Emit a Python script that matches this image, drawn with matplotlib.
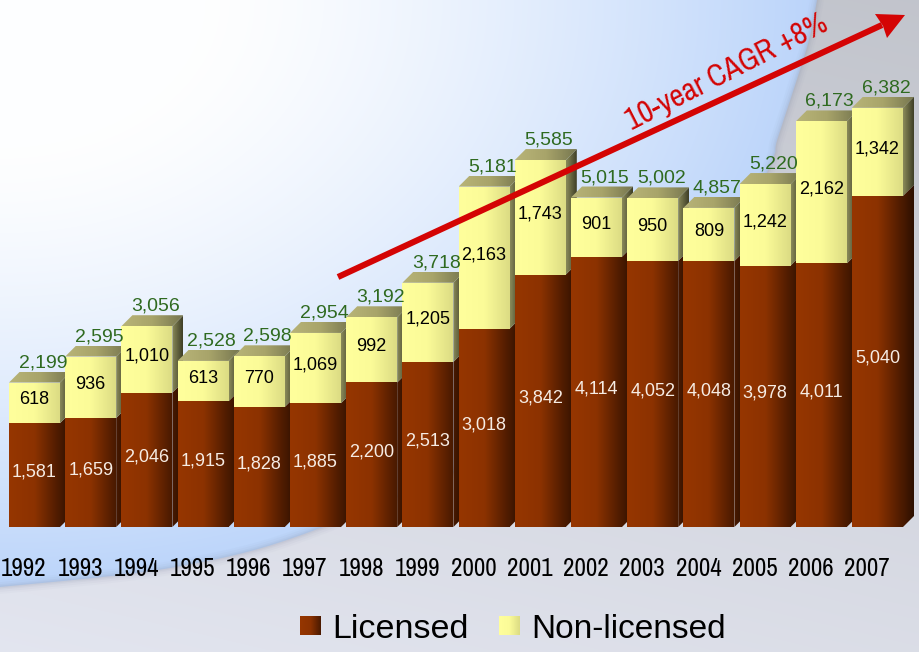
import numpy as np
from matplotlib import pyplot as plt
from matplotlib.colors import LinearSegmentedColormap
from matplotlib.patches import PathPatch, Polygon
from matplotlib.path import Path

years = list(range(1992, 2008))
licensed = [1581, 1659, 2046, 1915, 1828, 1885, 2200, 2513, 3018, 3842, 4114, 4052, 4048, 3978, 4011, 5040]
non_licensed = [618, 936, 1010, 613, 770, 1069, 992, 1205, 2163, 1743, 901, 950, 809, 1242, 2162, 1342]

W, H = 920, 652
PX_PER_UNIT = 0.0657
PX_PER_BAR = 56.2
BASE_Y = 527
FIRST_X = 34.5
DEPTH_PX = 11
NARROW = ['Archivo Narrow', 'Liberation Sans']

def ramp(*colors):
    return LinearSegmentedColormap.from_list('', colors)

brown_front = ramp('#963600', '#8c3200', '#4a1a00')
brown_side = ramp('#4a1a00', '#2c0f00')
yellow_front = ramp('#ffff9c', '#fbfb98', '#dcdc84')
yellow_side = ramp('#8a8a5a', '#3e3e26')
top_face = ramp('#b8b478', '#a8a46a', '#777750')

def grad_fill(ax, verts, cmap, z):
    # horizontal colour ramp clipped to an arbitrary polygon
    verts = np.array(verts)
    x0, x1 = verts[:, 0].min(), verts[:, 0].max()
    y0, y1 = verts[:, 1].min(), verts[:, 1].max()
    im = ax.imshow(np.linspace(0, 1, 64)[None, :], cmap=cmap, vmin=0, vmax=1, aspect='auto',
                   extent=(x0, x1, y0, y1), interpolation='bilinear', zorder=z)
    im.set_clip_path(Polygon(verts, closed=True, transform=ax.transData))

fig = plt.figure(figsize=(W / 100, H / 100), dpi=100)

# backdrop, in pixel coordinates
bg = fig.add_axes([0, 0, 1, 1])
bg.axis('off')
yy, xx = np.mgrid[0:H, 0:W]
grey = np.zeros((H, W, 3))
t = np.clip(yy / H * 0.75 + (W - xx) / W * 0.25, 0, 1)[..., None]
grey[:] = (1 - t) * np.array([0.76, 0.77, 0.80]) + t * np.array([0.89, 0.90, 0.94])
bg.imshow(grey, extent=(0, W, H, 0), aspect='auto', zorder=0)

r = np.sqrt((xx / 820) ** 2 + (yy / 590) ** 2)
t = np.clip((r - 0.25) / 0.75, 0, 1)[..., None] ** 1.4
blue = (1 - t) * np.array([0.995, 0.997, 1.0]) + t * np.array([0.73, 0.83, 0.98])
im = bg.imshow(blue, extent=(0, W, H, 0), aspect='auto', zorder=1)
curve = np.array([(817, 0), (807, 47), (778, 137), (768, 170), (700, 310), (560, 420), (323, 527), (176, 567), (0, 587)])
fine_x = []
fine_y = []
# Catmull-Rom through the edge points
pts = np.vstack([curve[0], curve, curve[-1]])
for i in range(1, len(pts) - 2):
    for s in np.linspace(0, 1, 20):
        p = 0.5 * (2 * pts[i] + (pts[i + 1] - pts[i - 1]) * s
                   + (2 * pts[i - 1] - 5 * pts[i] + 4 * pts[i + 1] - pts[i + 2]) * s ** 2
                   + (3 * pts[i] - pts[i - 1] - 3 * pts[i + 1] + pts[i + 2]) * s ** 3)
        fine_x.append(p[0])
        fine_y.append(p[1])
outline = list(zip(fine_x, fine_y)) + [(0, 0), (817, 0)]
blue_clip = PathPatch(Path(outline + [outline[0]]), transform=bg.transData)
im.set_clip_path(blue_clip)
for lw, a in [(10, 0.04), (7, 0.06), (4, 0.08), (2, 0.10)]:
    bg.plot(fine_x, fine_y, color='#8890a8', lw=lw, alpha=a, zorder=2, solid_capstyle='round')
bg.set_xlim(0, W)
bg.set_ylim(H, 0)

# chart axes: categories on x, values on y
ax = fig.add_axes([0, 0, 1, 1])
ax.patch.set_alpha(0)
ax.axis('off')
dx = DEPTH_PX / PX_PER_BAR
dy = DEPTH_PX / PX_PER_UNIT
half = 25.5 / PX_PER_BAR
z = 10
for i, (lic, non) in enumerate(zip(licensed, non_licensed)):
    total = lic + non
    l, r_ = i - half, i + half
    grad_fill(ax, [(r_, 0), (r_ + dx, dy), (r_ + dx, lic + dy), (r_, lic)], brown_side, z)
    grad_fill(ax, [(r_, lic), (r_ + dx, lic + dy), (r_ + dx, total + dy), (r_, total)], yellow_side, z + 1)
    grad_fill(ax, [(l, total), (r_, total), (r_ + dx, total + dy), (l + dx, total + dy)], top_face, z + 2)
    grad_fill(ax, [(l, 0), (r_, 0), (r_, lic), (l, lic)], brown_front, z + 3)
    grad_fill(ax, [(l, lic), (r_, lic), (r_, total), (l, total)], yellow_front, z + 4)
    z += 5

    ax.text(i, lic / 2 + 3 / PX_PER_UNIT, f'{lic:,}', color='#f6ece4', ha='center', va='center',
            fontsize=13, family='Liberation Sans', zorder=600)
    ax.text(i, lic + non / 2 + 3 / PX_PER_UNIT, f'{non:,}', color='black', ha='center', va='center',
            fontsize=13, family='Liberation Sans', zorder=600)
    ax.text(i + 8.5 / PX_PER_BAR, total + 20 / PX_PER_UNIT, f'{total:,}', color='#2f6a20', ha='center',
            va='center', fontsize=14, family='Liberation Sans', zorder=600)
    ax.text(i - 10.5 / PX_PER_BAR, -42 / PX_PER_UNIT, str(years[i]), color='black', ha='center', va='center',
            fontsize=18, family=NARROW, zorder=600)
ax.set_xlim(-FIRST_X / PX_PER_BAR, (W - FIRST_X) / PX_PER_BAR)
ax.set_ylim(-(H - BASE_Y) / PX_PER_UNIT, BASE_Y / PX_PER_UNIT)

# growth arrow and its caption
bg_tr = bg.transData
ax.plot([338, 882], [277, 25], color='#d40404', lw=4.4, transform=bg_tr, zorder=500, solid_capstyle='butt')
ax.add_patch(Polygon([(905, 15), (875, 14), (883, 26), (887, 38)], closed=True, color='#d40404', lw=0,
                     transform=bg_tr, zorder=500))
ax.text(727, 72, '10-year CAGR +8%', color='#d40404', rotation=27, rotation_mode='anchor', ha='center',
        va='center', fontsize=22, family=NARROW, transform=bg_tr, zorder=600)

# legend
grad_fill(bg, [(300, 616), (321, 616), (321, 635), (300, 635)], brown_front, 3)
grad_fill(bg, [(499, 616), (520, 616), (520, 635), (499, 635)], yellow_front, 3)
bg.set_xlim(0, W)
bg.set_ylim(H, 0)
bg.text(332, 629, 'Licensed', fontsize=24.5, family='Liberation Sans', va='center', zorder=4)
bg.text(531, 629, 'Non-licensed', fontsize=24, family='Liberation Sans', va='center', zorder=4)

fig.savefig('out.png', dpi=100)
